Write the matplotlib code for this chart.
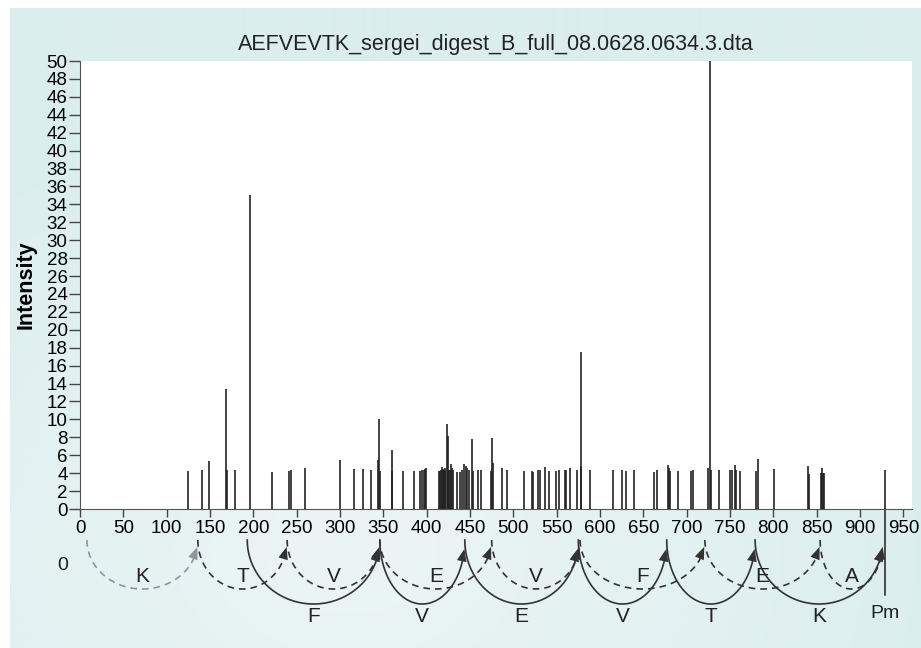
import matplotlib.pyplot as plt
import numpy as np

plt.rcParams['font.family'] = ['Liberation Sans', 'DejaVu Sans']

title = 'AEFVEVTK_sergei_digest_B_full_08.0628.0634.3.dta'

# spectrum peaks: m/z and intensity
mz = [124.3, 141.1, 149.2, 168.1, 169.3, 178.5, 195.8, 221.5, 241.5, 243.1,
      259.6, 300.0, 316.1, 326.9, 335.4, 344.2, 345.3, 346.5, 359.6, 360.3,
      373.0, 385.7, 392.3, 394.9, 396.5, 398.0, 399.5, 414.2, 415.4, 416.5,
      417.3, 418.3, 419.2, 420.0, 420.8, 421.7, 423.1, 424.3, 424.9, 425.8,
      426.9, 428.1, 429.2, 430.4, 434.6, 438.1, 441.1, 443.4, 445.0, 446.2,
      449.2, 452.0, 453.1, 458.9, 462.3, 473.9, 475.4, 476.9, 486.6, 492.3,
      512.6, 521.5, 523.2, 528.1, 530.7, 536.9, 541.1, 549.2, 552.3, 559.6,
      560.8, 565.4, 573.8, 577.7, 578.4, 588.4, 615.3, 625.7, 630.0, 639.6,
      662.6, 665.4, 678.4, 679.9, 681.1, 689.6, 705.3, 706.9, 724.9, 726.9,
      728.4, 736.9, 750.0, 751.9, 755.4, 756.9, 761.5, 780.0, 782.0, 800.7,
      839.6, 840.8, 855.3, 856.5, 857.6, 858.4, 929.1]
intensity = [4.2, 4.3, 5.4, 13.4, 4.3, 4.3, 35.0, 4.1, 4.2, 4.3,
             4.6, 5.5, 4.5, 4.5, 4.4, 5.5, 10.1, 4.2, 6.6, 4.2,
             4.2, 4.2, 4.2, 4.3, 4.4, 4.5, 4.6, 4.2, 4.2, 4.4,
             4.7, 4.3, 4.5, 4.4, 4.6, 4.3, 9.5, 8.2, 4.2, 4.3,
             4.4, 5.0, 4.6, 4.3, 4.1, 4.1, 4.3, 5.0, 4.8, 4.6,
             4.4, 7.8, 4.2, 4.4, 4.3, 4.2, 7.9, 5.1, 4.6, 4.4,
             4.2, 4.2, 4.1, 4.3, 4.3, 4.7, 4.2, 4.2, 4.4, 4.4,
             4.3, 4.6, 4.3, 17.5, 4.7, 4.3, 4.4, 4.3, 4.2, 4.4,
             4.1, 4.3, 4.9, 4.6, 4.2, 4.2, 4.2, 4.3, 4.6, 50.0,
             4.3, 4.3, 4.3, 4.4, 4.9, 4.4, 4.2, 4.2, 5.6, 4.5,
             4.8, 3.9, 4.0, 4.6, 4.0, 4.0, 4.3]

# ion ladders drawn under the axis
dashed_ladder = [8, 136, 239, 346, 475, 577, 721, 854, 926.5]
dashed_letters = ['K', 'T', 'V', 'E', 'V', 'F', 'E', 'A']
solid_ladder = [193, 346, 444, 575, 677, 779, 926.5]
solid_letters = ['F', 'V', 'E', 'V', 'T', 'K']
precursor = 929.1

W, H = 921, 648
fig = plt.figure(figsize=(W / 100, H / 100), dpi=100)
fig.patch.set_facecolor('white')

# light cyan panel with a soft highlight
bg = fig.add_axes([10 / W, 0, (W - 10) / W, (H - 8) / H])
yy, xx = np.mgrid[0:640, 0:911]
d = np.sqrt((xx - 340) ** 2 + ((yy - 540) * 1.3) ** 2) / 600
d = np.clip(d, 0, 1)[..., None]
c_in = np.array([236, 245, 245]) / 255
c_out = np.array([219, 238, 238]) / 255
bg.imshow(c_in * (1 - d) + c_out * d, aspect='auto')
bg.axis('off')

ax = fig.add_axes([80 / W, 1 - 509 / H, 832 / W, 448 / H])
ax.set_facecolor('white')
ax.vlines(mz, 0, intensity, color='#222222', lw=1.2)
ax.set_xlim(0, 960)
ax.set_ylim(0, 50)
ax.set_xticks(range(0, 951, 50))
ax.set_yticks(range(0, 51, 2))
ax.tick_params(axis='y', length=8, width=1, color='#444444', labelsize=13.5, pad=1)
ax.tick_params(axis='x', length=6, width=1, color='#444444', labelsize=13.5, pad=2)
for s in ['top', 'right']:
    ax.spines[s].set_visible(False)
for s in ['left', 'bottom']:
    ax.spines[s].set_color('#555555')
ax.set_ylabel('Intensity', fontsize=15.5, fontweight='bold', labelpad=7)
ax.set_title(title, fontsize=15.5, pad=8, color='#222222')

# pixel -> data scale for the annotation strip under the axis
ypx = 50 / 448.0
ytop = -31 * ypx


def ladder_arc(x0, x1, depth, color, ls):
    t = np.linspace(np.pi, 2 * np.pi - 0.14, 120)
    c, a = (x0 + x1) / 2, (x1 - x0) / 2
    xs = c + a * np.cos(t)
    ys = ytop + depth * np.sin(t)
    ax.plot(xs[:-4], ys[:-4], color=color, lw=1.2, ls=ls, clip_on=False)
    tb = 2 * np.pi - 0.5
    ax.annotate('', xy=(xs[-1], ys[-1]),
                xytext=(c + a * np.cos(tb), ytop + depth * np.sin(tb)),
                arrowprops=dict(arrowstyle='-|>,head_length=0.9,head_width=0.35',
                                color=color, lw=0, shrinkA=0, shrinkB=0),
                annotation_clip=False)


for i, letter in enumerate(dashed_letters):
    col = '#8c969c' if i == 0 else '#333333'
    x0, x1 = dashed_ladder[i], dashed_ladder[i + 1]
    ladder_arc(x0, x1, 49 * ypx, col, (0, (4, 3)))
    ax.text((x0 + x1) / 2, -68 * ypx, letter, fontsize=15, ha='center',
            va='center', color='#222222', clip_on=False)

for i, letter in enumerate(solid_letters):
    x0, x1 = solid_ladder[i], solid_ladder[i + 1]
    ladder_arc(x0, x1, 64 * ypx, '#333333', '-')
    ax.text((x0 + x1) / 2, -107 * ypx, letter, fontsize=15, ha='center',
            va='center', color='#222222', clip_on=False)

ax.plot([precursor, precursor], [0, -86 * ypx], color='#222222', lw=1.1, clip_on=False)
ax.text(precursor, -104 * ypx, 'Pm', fontsize=14, ha='center', va='center',
        color='#222222', clip_on=False)
ax.text(-19.6, -56 * ypx, '0', fontsize=14, ha='center', va='center',
        color='#222222', clip_on=False)

fig.savefig('out.png', dpi=100)
